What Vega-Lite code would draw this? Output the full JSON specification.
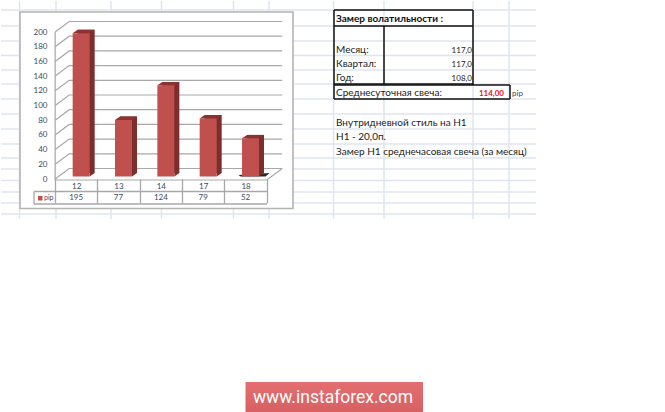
{
"$schema":"https://vega.github.io/schema/vega-lite/v6.json",
"width":665,"height":412,"padding":0,"autosize":{"type":"fit","contains":"padding"},"background":"#ffffff",
"config":{"view":{"stroke":null},"text":{"font":"Lato"}},
"datasets":{
"pips":[{"day":"12","pip":195},{"day":"13","pip":77},{"day":"14","pip":124},{"day":"17","pip":79},{"day":"18","pip":52}],
"ticks":[{"pip":0},{"pip":20},{"pip":40},{"pip":60},{"pip":80},{"pip":100},{"pip":120},{"pip":140},{"pip":160},{"pip":180},{"pip":200}],
"sheetH":[{"x":0,"x2":535,"y":9},{"x":0,"x2":535,"y":25},{"x":0,"x2":535,"y":40},{"x":0,"x2":535,"y":54.5},{"x":0,"x2":535,"y":69},{"x":0,"x2":535,"y":83},{"x":0,"x2":535,"y":98},{"x":0,"x2":535,"y":113},{"x":0,"x2":535,"y":128},{"x":0,"x2":535,"y":143},{"x":0,"x2":535,"y":157},{"x":0,"x2":535,"y":168},{"x":0,"x2":535,"y":179.5},{"x":0,"x2":535,"y":191},{"x":0,"x2":535,"y":202},{"x":0,"x2":535,"y":213}],
"sheetV":[{"x":18.5,"y":0,"y2":218},{"x":55,"y":0,"y2":218},{"x":110,"y":0,"y2":218},{"x":160.5,"y":0,"y2":218},{"x":232.5,"y":0,"y2":218},{"x":268,"y":0,"y2":218},{"x":332.5,"y":0,"y2":218},{"x":383,"y":0,"y2":218},{"x":472,"y":0,"y2":218},{"x":508,"y":0,"y2":218}],
"tableH":[{"x":333,"x2":472,"y":9},{"x":333,"x2":472,"y":25},{"x":333,"x2":472,"y":83},{"x":333,"x2":509,"y":84},{"x":333,"x2":509,"y":98}],
"tableV":[{"x":333,"y":9,"y2":98},{"x":383,"y":25,"y2":83},{"x":472,"y":9,"y2":84},{"x":509,"y":84,"y2":98}],
"legendH":[{"x":33,"x2":266,"y":190.5},{"x":33,"x2":266,"y":203}],
"legendV":[{"x":33,"y":190.5,"y2":203}],
"notes":[{"x":335,"y":49,"t":"Месяц:"},{"x":335,"y":63,"t":"Квартал:"},{"x":335,"y":77,"t":"Год:"},{"x":335,"y":92,"t":"Среднесуточная свеча:"},{"x":335,"y":121.5,"t":"Внутридневной стиль на Н1"},{"x":335,"y":136,"t":"Н1 - 20,0п."},{"x":335,"y":151,"t":"Замер Н1 среднечасовая свеча (за месяц)"}],
"values":[{"x":471,"y":50,"t":"117,0"},{"x":471,"y":64,"t":"117,0"},{"x":471,"y":78,"t":"108,0"}]
},
"resolve":{"scale":{"x":"independent","y":"independent"}},
"layer":[
{"encoding":{
  "x":{"field":"x","type":"quantitative","scale":{"domain":[0,665],"range":[0,665]},"axis":null},
  "y":{"field":"y","type":"quantitative","scale":{"domain":[0,412],"range":[0,412]},"axis":null}
 },
 "layer":[
 {"data":{"name":"sheetH"},"mark":{"type":"rule","color":"#dfe4f0","strokeWidth":1.5},"encoding":{"x2":{"field":"x2"}}},
 {"data":{"name":"sheetV"},"mark":{"type":"rule","color":"#dfe4f0","strokeWidth":1.5},"encoding":{"y2":{"field":"y2"}}},
 {"data":{"values":[{"x":19,"x2":292,"y":11,"y2":207.5}]},"mark":{"type":"rect","fill":"#ffffff","stroke":"#b4b4b4","strokeWidth":1.6},"encoding":{"x2":{"field":"x2"},"y2":{"field":"y2"}}},
 {"data":{"name":"legendH"},"mark":{"type":"rule","color":"#a8a8a8","strokeWidth":1.3},"encoding":{"x2":{"field":"x2"}}},
 {"data":{"name":"legendV"},"mark":{"type":"rule","color":"#a8a8a8","strokeWidth":1.3},"encoding":{"y2":{"field":"y2"}}},
 {"data":{"values":[{"x":37,"x2":41.5,"y":195,"y2":199.5}]},"mark":{"type":"rect","fill":"#c0504d"},"encoding":{"x2":{"field":"x2"},"y2":{"field":"y2"}}},
 {"data":{"values":[{"x":43,"y":197,"t":"pip"}]},"mark":{"type":"text","align":"left","baseline":"middle","fontSize":7,"color":"#3b4a5e"},"encoding":{"text":{"field":"t"}}},
 {"data":{"name":"tableH"},"mark":{"type":"rule","color":"#111111","strokeWidth":1.5},"encoding":{"x2":{"field":"x2"}}},
 {"data":{"name":"tableV"},"mark":{"type":"rule","color":"#111111","strokeWidth":1.5},"encoding":{"y2":{"field":"y2"}}},
 {"data":{"values":[{"x":335,"y":18,"t":"Замер  волатильности  :"}]},"mark":{"type":"text","align":"left","baseline":"middle","fontSize":10,"fontWeight":"bold","color":"#111111"},"encoding":{"text":{"field":"t"}}},
 {"data":{"name":"notes"},"mark":{"type":"text","align":"left","baseline":"middle","fontSize":10,"color":"#222222"},"encoding":{"text":{"field":"t"}}},
 {"data":{"name":"values"},"mark":{"type":"text","align":"right","baseline":"middle","fontSize":8,"color":"#222222"},"encoding":{"text":{"field":"t"}}},
 {"data":{"values":[{"x":503,"y":93,"t":"114,00"}]},"mark":{"type":"text","align":"right","baseline":"middle","fontSize":8,"fontWeight":"bold","color":"#f01010"},"encoding":{"text":{"field":"t"}}},
 {"data":{"values":[{"x":511,"y":93,"t":"pip"}]},"mark":{"type":"text","align":"left","baseline":"middle","fontSize":8,"color":"#3b4a5e"},"encoding":{"text":{"field":"t"}}},
 {"data":{"values":[{"x":244.5,"x2":422,"y":381,"y2":411}]},"mark":{"type":"rect","fill":{"gradient":"linear","x1":0,"y1":0,"x2":0,"y2":1,"stops":[{"offset":0,"color":"#e36e70"},{"offset":1,"color":"#d76062"}]}},"encoding":{"x2":{"field":"x2"},"y2":{"field":"y2"}}},
 {"data":{"values":[{"x":332,"y":396.5,"t":"www.instaforex.com"}]},"mark":{"type":"text","align":"center","baseline":"middle","fontSize":17.5,"font":"Roboto","color":"#ffffff"},"encoding":{"text":{"field":"t"}}}
]},
{"encoding":{
  "x":{"field":"day","type":"nominal","title":null,"scale":{"type":"band","domain":["12","13","14","17","18"],"range":[54,265.7],"paddingInner":0,"paddingOuter":0},
    "axis":{"orient":"bottom","offset":-233,"zindex":1,"domain":false,"labelAngle":0,"tickBand":"extent","tickSize":24,"tickColor":"#a8a8a8","tickWidth":1.3,"labelPadding":-21,"labelFontSize":8,"labelColor":"#3b4a5e","labelFont":"Lato"}},
  "y":{"field":"pip","type":"quantitative","title":null,"scale":{"domain":[0,200],"range":[178,31],"nice":false},
    "axis":{"orient":"left","offset":-49,"zindex":1,"domain":false,"ticks":false,"grid":false,"values":[0,20,40,60,80,100,120,140,160,180,200],"labelPadding":3,"labelFontSize":8,"labelColor":"#3b4a5e","labelFont":"Lato"}}
 },
 "layer":[
 {"data":{"name":"ticks"},"mark":{"type":"point","filled":false,"size":4,"stroke":"#a8a8a8","strokeWidth":1.2,"opacity":1,"shape":"M-21,0L-7,-10.5L206,-10.5"},
  "encoding":{"x":{"datum":"12"}}},
 {"data":{"values":[{"day":"12","pip":0}]},"mark":{"type":"point","filled":false,"size":4,"stroke":"#a8a8a8","strokeWidth":1.2,"opacity":1,"shape":"M-21,-147L-21,1L190.7,1L206,-10.5"}},
 {"data":{"values":[{"day":"18","pip":0}]},"mark":{"type":"point","filled":true,"size":4,"fill":"#2a2a2a","opacity":1,"shape":"M-7,-4L24,-6L20,-2.5L-5,-2.5Z"}},
 {"data":{"name":"pips"},"mark":{"type":"bar","size":17,"color":"#7b2e2c","xOffset":10,"yOffset":-5.9,"y2Offset":-5.9},
  "encoding":{"y2":{"datum":0}}},
 {"data":{"name":"pips"},"mark":{"type":"point","filled":true,"size":4,"fill":"#8c3331","opacity":1,"shape":"M-3.5,-2.5L1.5,-5.9L18.5,-5.9L13.5,-2.5Z"}},
 {"data":{"values":[{"day":"12","pip":0},{"day":"13","pip":0},{"day":"14","pip":0},{"day":"17","pip":0},{"day":"18","pip":0}]},"mark":{"type":"point","filled":true,"size":4,"fill":"#7b2e2c","opacity":1,"shape":"M13.5,-5.9L18.5,-5.9L13.5,-2.5Z"}},
 {"data":{"name":"pips"},"mark":{"type":"bar","size":17,"color":"#c0504d","xOffset":5,"yOffset":-2.5,"y2Offset":-2.5},
  "encoding":{"y2":{"datum":0}}},
 {"data":{"name":"pips"},"mark":{"type":"text","fontSize":8,"color":"#3b4a5e","baseline":"middle","yOffset":19},
  "encoding":{"y":{"datum":0,"type":"quantitative"},"text":{"field":"pip","type":"quantitative"}}}
 ]}
]
}
